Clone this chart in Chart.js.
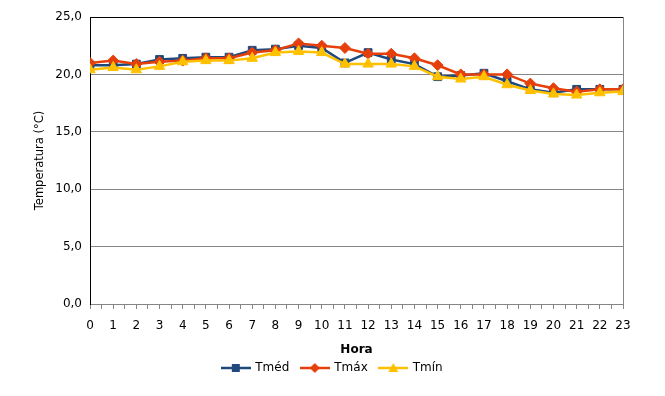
<!DOCTYPE html>
<html>
<head>
<meta charset="utf-8">
<script src="https://cdn.jsdelivr.net/npm/chart.js@4"></script>
<style>
  html, body { margin: 0; padding: 0; background: #fff; }
  #wrap { width: 665px; height: 396px; }
</style>
</head>
<body>
<div id="wrap"><canvas id="grafico"></canvas></div>
<script>
const horas = [0,1,2,3,4,5,6,7,8,9,10,11,12,13,14,15,16,17,18,19,20,21,22,23];
const tmed = [20.8, 20.8, 20.9, 21.3, 21.4, 21.5, 21.5, 22.1, 22.2, 22.5, 22.3, 21.0, 21.9, 21.3, 20.9, 19.8, 19.9, 20.1, 19.4, 18.7, 18.4, 18.7, 18.7, 18.7];
const tmax = [21.0, 21.2, 20.9, 21.1, 21.2, 21.4, 21.4, 21.9, 22.1, 22.7, 22.5, 22.3, 21.8, 21.8, 21.4, 20.8, 20.0, 20.0, 20.0, 19.2, 18.8, 18.5, 18.7, 18.7];
const tmin = [20.4, 20.6, 20.4, 20.7, 21.1, 21.2, 21.2, 21.4, 21.9, 22.0, 21.9, 20.9, 20.9, 20.9, 20.7, 19.8, 19.6, 19.8, 19.1, 18.6, 18.3, 18.2, 18.4, 18.5];
const yTicks = [0, 5, 10, 15, 20, 25];

const AZUL = '#1F497D';
const LARANJA = '#E5400C';
const AMARELO = '#FFC000';
const FONTE = 'DejaVu Sans';

// little legend sample: line with the marker in the middle
function amostra(cor, estilo) {
  const c = document.createElement('canvas');
  c.width = 30; c.height = 12;
  const g = c.getContext('2d');
  g.strokeStyle = cor; g.lineWidth = 2.5;
  g.beginPath(); g.moveTo(0, 6); g.lineTo(30, 6); g.stroke();
  g.fillStyle = cor;
  g.beginPath();
  if (estilo === 'rect') g.rect(11, 2, 8, 8);
  else if (estilo === 'rectRot') { g.moveTo(15, 1); g.lineTo(20, 6); g.lineTo(15, 11); g.lineTo(10, 6); g.closePath(); }
  else { g.moveTo(15, 1); g.lineTo(20, 10); g.lineTo(10, 10); g.closePath(); }
  g.fill();
  return c;
}

function serie(nome, valores, cor, estilo, raio, ordem) {
  return {
    label: nome,
    data: valores.map((v, i) => ({ x: horas[i], y: v })),
    borderColor: cor,
    backgroundColor: cor,
    borderWidth: 2.5,
    pointStyle: estilo,
    pointRadius: raio,
    pointHoverRadius: raio,
    pointBorderWidth: 1,
    tension: 0,
    order: ordem,
    amostra: amostra(cor, estilo)
  };
}

const ctx = document.getElementById('grafico').getContext('2d');
const grafico = new Chart(ctx, {
  type: 'line',
  data: {
    datasets: [
      serie('Tméd', tmed, AZUL, 'rect', 5.5, 2),
      serie('Tmáx', tmax, LARANJA, 'rectRot', 5.5, 1),
      serie('Tmín', tmin, AMARELO, 'triangle', 6, 0)
    ]
  },
  options: {
    responsive: true,
    maintainAspectRatio: false,
    animation: false,
    layout: { padding: { left: 0, right: 0, top: 17, bottom: 12 } },
    scales: {
      x: {
        type: 'linear',
        min: 0,
        max: 23,
        afterBuildTicks: (s) => { s.ticks = []; for (let v = 0; v <= 23; v += 0.5) s.ticks.push({ value: v }); },
        ticks: {
          autoSkip: false,
          maxRotation: 0,
          padding: 10,
          color: '#000',
          font: { family: FONTE, size: 12 },
          callback: (v) => Number.isInteger(v) ? String(v) : ''
        },
        grid: { drawOnChartArea: false, drawTicks: true, tickLength: 5, color: '#868686' },
        border: { color: '#868686', width: 1 },
        title: {
          display: true,
          text: 'Hora',
          color: '#000',
          font: { family: FONTE, size: 12, weight: 'bold' },
          padding: { top: 17, bottom: -7 }
        },
        afterFit: (s) => { s.height = 46; }
      },
      y: {
        min: 0,
        max: 25,
        afterBuildTicks: (s) => { s.ticks = yTicks.map(v => ({ value: v })); },
        ticks: {
          padding: 8,
          color: '#000',
          font: { family: FONTE, size: 12 },
          callback: (v) => v.toFixed(1).replace('.', ',')
        },
        grid: {
          drawTicks: false,
          color: (c) => c.tick && c.tick.value === 25 ? '#000' : '#868686'
        },
        border: { color: '#000', width: 1 },
        title: {
          display: true,
          text: 'Temperatura (°C)',
          color: '#000',
          font: { family: FONTE, size: 11.5 },
          padding: { top: 33, bottom: 0 }
        },
        afterFit: (s) => { s.width = 90; }
      },
      borda: {
        type: 'linear',
        position: 'right',
        min: 0,
        max: 25,
        ticks: { display: false },
        grid: { display: false },
        border: { color: '#868686', width: 1 },
        afterFit: (s) => { s.width = 42; }
      }
    },
    plugins: {
      legend: {
        position: 'bottom',
        labels: {
          usePointStyle: true,
          pointStyleWidth: 27,
          padding: 12,
          color: '#000',
          font: { family: FONTE, size: 12 },
          generateLabels: (chart) => chart.data.datasets.map((d, i) => ({
            text: d.label,
            pointStyle: d.amostra,
            fillStyle: d.borderColor,
            strokeStyle: d.borderColor,
            lineWidth: 0,
            fontColor: '#000',
            datasetIndex: i,
            hidden: false
          }))
        }
      },
      tooltip: { enabled: false }
    }
  }
});
</script>
</body>
</html>
